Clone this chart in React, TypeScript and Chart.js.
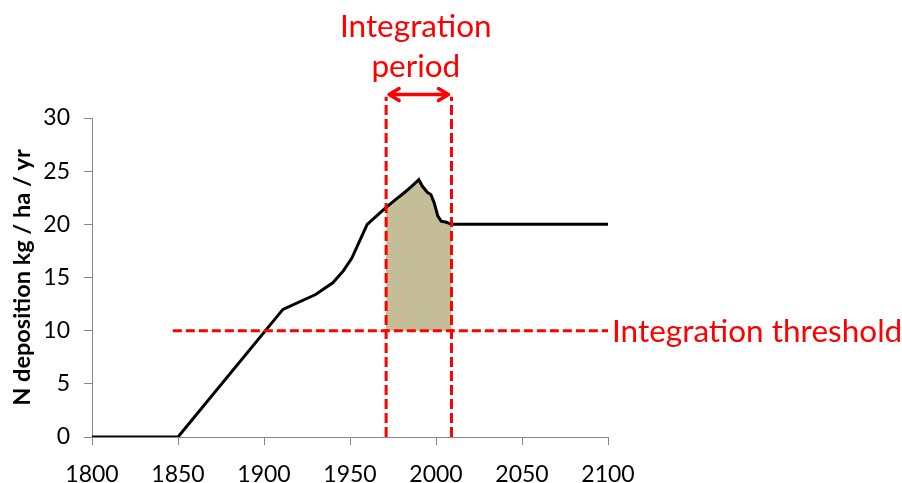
import React, { useEffect, useRef } from "react";
import { Chart, registerables } from "chart.js";

Chart.register(...registerables);

// ---- data ----
const years = [1800, 1850, 1911, 1930, 1940, 1946, 1951, 1960, 1971, 1977, 1981, 1986, 1990, 1992, 1995, 1997, 1999, 2001, 2003, 2006, 2009, 2100];
const deposition = [0, 0, 12.0, 13.4, 14.5, 15.6, 16.8, 20.0, 21.6, 22.4, 22.9, 23.6, 24.2, 23.6, 23.0, 22.8, 22.0, 20.8, 20.3, 20.2, 20.0, 20.0];

const periodStart = 1971;
const periodEnd = 2009;
const markerTop = 32;
const arrowLevel = 32.2;

const thresholdValue = 10;
const thresholdStart = 1847;
const thresholdEnd = 2100;

const xMin = 1800;
const xMax = 2100;
const xStep = 50;
const yMin = 0;
const yMax = 30;
const yStep = 5;

const periodLabel = ["Integration", "period"];
const thresholdLabel = "Integration threshold";
const yTitle = "N deposition kg / ha / yr";

const RED = "#FF0000";
const AXIS = "#868686";
const FILL = "#C4BD97";

const mainPoints = years.map((x, i) => ({ x, y: deposition[i] }));
const fillPoints = mainPoints.filter((p) => p.x >= periodStart && p.x <= periodEnd);

const annotationPlugin = {
  id: "annotations",
  afterDraw(chart: any) {
    const ctx = chart.ctx;
    const xs = chart.scales.x;
    const ys = chart.scales.y;
    const x1 = xs.getPixelForValue(periodStart);
    const x2 = xs.getPixelForValue(periodEnd);
    const ya = ys.getPixelForValue(arrowLevel);
    ctx.save();
    // arrow
    ctx.strokeStyle = RED;
    ctx.lineWidth = 3.5;
    ctx.lineCap = "round";
    ctx.lineJoin = "round";
    const a1 = x1 + 3;
    const a2 = x2 - 3;
    ctx.beginPath();
    ctx.moveTo(a1, ya);
    ctx.lineTo(a2, ya);
    ctx.moveTo(a1 + 10, ya - 6);
    ctx.lineTo(a1, ya);
    ctx.lineTo(a1 + 10, ya + 6);
    ctx.moveTo(a2 - 10, ya - 6);
    ctx.lineTo(a2, ya);
    ctx.lineTo(a2 - 10, ya + 6);
    ctx.stroke();
    // texts
    ctx.fillStyle = RED;
    ctx.font = "31.5px Lato";
    ctx.textAlign = "center";
    ctx.textBaseline = "alphabetic";
    const cx = (x1 + x2) / 2 - 3;
    ctx.fillText(periodLabel[0], cx, 37);
    ctx.fillText(periodLabel[1], cx, 77);
    ctx.textAlign = "left";
    const tx = xs.getPixelForValue(thresholdEnd) + 4;
    const ty = ys.getPixelForValue(thresholdValue) + 11;
    ctx.fillText(thresholdLabel, tx, ty);
    ctx.restore();
  },
};

export default function App() {
  const ref = useRef<HTMLCanvasElement>(null);
  useEffect(() => {
    if (!ref.current) return;
    const chart = new Chart(ref.current, {
      type: "line",
      data: {
        datasets: [
          {
            label: "deposition",
            data: mainPoints,
            borderColor: "#000000",
            borderWidth: 3,
            pointRadius: 0,
            tension: 0,
            fill: false,
            order: 2,
          },
          {
            label: "integral",
            data: fillPoints,
            borderWidth: 0,
            borderColor: "rgba(0,0,0,0)",
            backgroundColor: FILL,
            pointRadius: 0,
            tension: 0,
            fill: { value: thresholdValue },
            order: 3,
          },
          {
            label: "threshold",
            data: [
              { x: thresholdStart, y: thresholdValue },
              { x: thresholdEnd, y: thresholdValue },
            ],
            borderColor: RED,
            borderWidth: 3,
            borderDash: [9, 4],
            pointRadius: 0,
            fill: false,
            order: 1,
          },
          {
            label: "start",
            data: [
              { x: periodStart, y: yMin },
              { x: periodStart, y: markerTop },
            ],
            borderColor: RED,
            borderWidth: 3,
            borderDash: [10, 4],
            pointRadius: 0,
            fill: false,
            clip: false,
            order: 0,
          },
          {
            label: "end",
            data: [
              { x: periodEnd, y: yMin },
              { x: periodEnd, y: markerTop },
            ],
            borderColor: RED,
            borderWidth: 3,
            borderDash: [10, 4],
            pointRadius: 0,
            fill: false,
            clip: false,
            order: 0,
          },
        ],
      },
      options: {
        animation: false,
        responsive: false,
        devicePixelRatio: 1,
        layout: { padding: { left: 0, right: 294, top: 118, bottom: 0 } },
        plugins: { legend: { display: false }, tooltip: { enabled: false } },
        scales: {
          x: {
            type: "linear",
            min: xMin,
            max: xMax,
            afterFit: (s: any) => {
              s.height = 46;
            },
            ticks: {
              stepSize: xStep,
              autoSkip: false,
              maxRotation: 0,
              padding: 16,
              color: "#000000",
              font: { family: "Lato", size: 23 },
              callback: (v: any) => String(v),
            },
            grid: { drawOnChartArea: false, drawTicks: true, tickLength: 8, color: AXIS, lineWidth: 1 },
            border: { color: AXIS, width: 1 },
          },
          y: {
            type: "linear",
            min: yMin,
            max: yMax,
            afterFit: (s: any) => {
              s.width = 92;
            },
            ticks: {
              stepSize: yStep,
              padding: 14,
              color: "#000000",
              font: { family: "Lato", size: 23 },
            },
            grid: { drawOnChartArea: false, drawTicks: true, tickLength: 8, color: AXIS, lineWidth: 1 },
            border: { color: AXIS, width: 1 },
            title: {
              display: true,
              text: yTitle,
              color: "#000000",
              font: { family: "Lato", size: 23.5, weight: "bold" },
              padding: { top: 8, bottom: 0 },
            },
          },
        },
      },
      plugins: [annotationPlugin],
    });
    return () => chart.destroy();
  }, []);
  return (
    <canvas
      ref={ref}
      width={902}
      height={483}
      style={{ position: "absolute", left: 0, top: 0, width: 902, height: 483 }}
    />
  );
}
